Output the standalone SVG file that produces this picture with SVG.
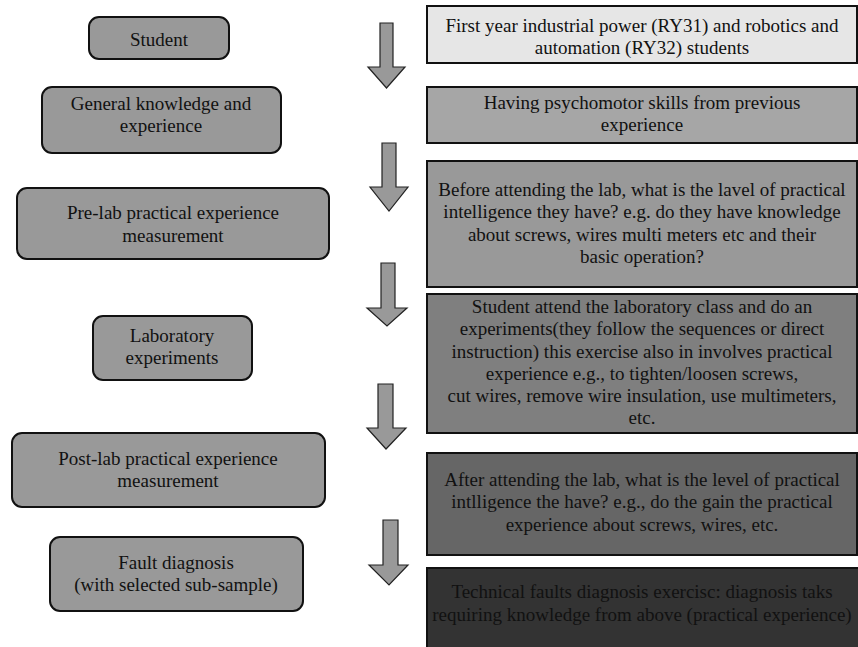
<svg xmlns="http://www.w3.org/2000/svg" width="858" height="647" viewBox="0 0 858 647">
<style>
text{font-family:"Liberation Serif","Times New Roman",serif;font-size:19px;fill:#111;text-anchor:middle}
.n{fill:#999;stroke:#111;stroke-width:2}
.b{stroke:#111;stroke-width:2}
.ar{fill:#999;stroke:#222;stroke-width:1.2}
</style>
<rect width="858" height="647" fill="#fff"/>
<g id="connectors">
<path class="ar" d="M380,23 H393 V67 H405 L386.5,88 L368,67 H380 Z"/>
<path class="ar" d="M382,143 H396 V187 H408 L389,211 L370,187 H382 Z"/>
<path class="ar" d="M381,263 H395 V308 H407 L387,326 L367,308 H381 Z"/>
<path class="ar" d="M378,384 H393 V428 H406 L386,449 L367,428 H378 Z"/>
<path class="ar" d="M383,520 H398 V565 H408 L389,585 L369,565 H383 Z"/>
</g>
<g id="student"><rect class="n" x="89" y="17" width="140" height="42" rx="10"/><text x="159" y="46">Student</text></g>
<g id="general"><rect class="n" x="42" y="87" width="239" height="66" rx="10"/><text x="161" y="110">General knowledge and</text><text x="161" y="132">experience</text></g>
<g id="prelab"><rect class="n" x="17" y="188" width="312" height="71" rx="10"/><text x="173" y="219">Pre-lab practical experience</text><text x="173" y="242">measurement</text></g>
<g id="lab"><rect class="n" x="93" y="316" width="159" height="64" rx="10"/><text x="172" y="342">Laboratory</text><text x="172" y="364">experiments</text></g>
<g id="postlab"><rect class="n" x="12" y="433" width="313" height="74" rx="10"/><text x="168" y="465">Post-lab practical experience</text><text x="168" y="487">measurement</text></g>
<g id="fault"><rect class="n" x="50" y="537" width="253" height="74" rx="10"/><text x="176" y="569">Fault diagnosis</text><text x="176" y="591">(with selected sub-sample)</text></g>
<g id="d1"><rect class="b" x="427" y="6" width="430" height="57" fill="#e6e6e6"/><text x="642" y="32">First year industrial power (RY31) and robotics and</text><text x="642" y="54">automation (RY32) students</text></g>
<g id="d2"><rect class="b" x="427" y="87" width="430" height="56" fill="#a6a6a6"/><text x="642" y="109">Having psychomotor skills from previous</text><text x="642" y="131">experience</text></g>
<g id="d3"><rect class="b" x="427" y="161" width="430" height="126" fill="#999"/><text x="642" y="196">Before attending the lab, what is the lavel of practical</text><text x="642" y="218">intelligence they have? e.g. do they have knowledge</text><text x="642" y="241">about screws, wires multi meters etc and their</text><text x="642" y="263">basic operation?</text></g>
<g id="d4"><rect class="b" x="427" y="294" width="430" height="139" fill="#7f7f7f"/><text x="642" y="313">Student attend the laboratory class and do an</text><text x="642" y="335">experiments(they follow the sequences or direct</text><text x="642" y="358">instruction) this exercise also in involves practical</text><text x="642" y="380">experience e.g., to tighten/loosen screws,</text><text x="642" y="402">cut wires, remove wire insulation, use multimeters,</text><text x="642" y="424">etc.</text></g>
<g id="d5"><rect class="b" x="427" y="453" width="430" height="102" fill="#666"/><text x="642" y="486">After attending the lab, what is the level of practical</text><text x="642" y="508">intlligence the have? e.g., do the gain the practical</text><text x="642" y="531">experience about screws, wires, etc.</text></g>
<g id="d6"><rect class="b" x="427" y="568" width="432" height="90" fill="#333"/><text x="642" y="598">Technical faults diagnosis exercisc: diagnosis taks</text><text x="642" y="621">requiring knowledge from above (practical experience)</text></g>
</svg>
